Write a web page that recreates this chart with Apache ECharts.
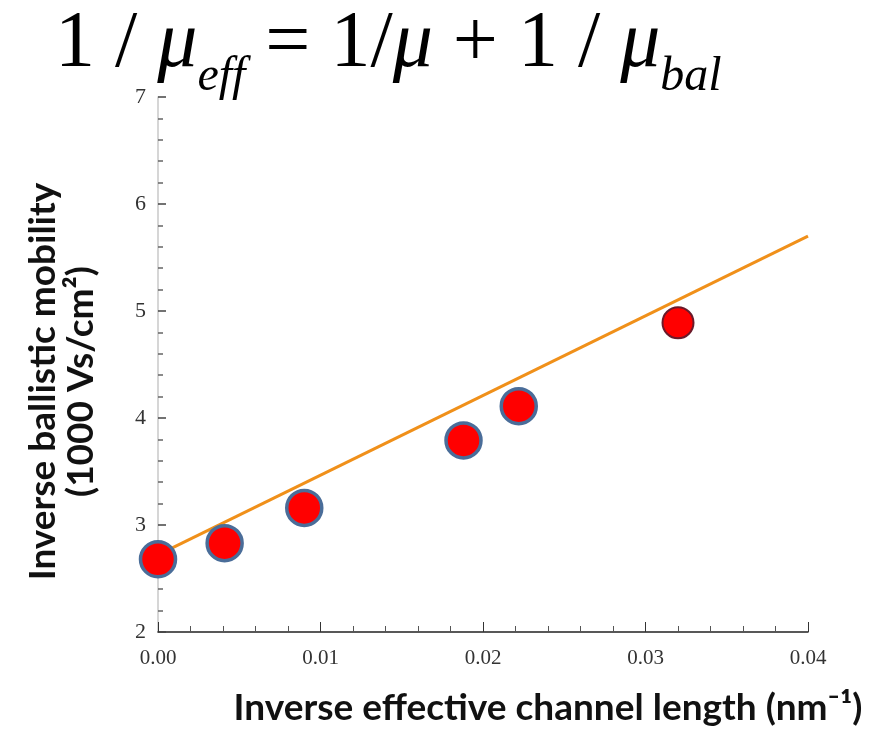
<!DOCTYPE html>
<html>
<head>
<meta charset="utf-8">
<script src="https://cdn.jsdelivr.net/npm/echarts@6/dist/echarts.min.js"></script>
<style>
  html, body { margin: 0; padding: 0; background: #fff; }
  #chart { width: 885px; height: 737px; }
</style>
</head>
<body>
<div id="chart"></div>
<script>
// measured points (inverse channel length vs inverse ballistic mobility)
const xValues = [0.0, 0.0041, 0.0090, 0.0188, 0.0222, 0.0320];
const yValues = [2.68, 2.83, 3.16, 3.79, 4.11, 4.89];
// linear fit line
const fitX = [0, 0.04];
const fitY = [2.72, 5.70];

const points = xValues.map((x, i) => [x, yValues[i]]);
const fitLine = fitX.map((x, i) => [x, fitY[i]]);

const serif = 'Liberation Serif';
const sans = 'Lato';

const chart = echarts.init(document.getElementById('chart'));
chart.setOption({
  backgroundColor: '#fff',
  animation: false,
  title: {
    left: 50,
    top: 0,
    text: '{n|1 / }{m|μ}{s|eff}{n| = 1/}{m|μ}{n| + 1 / }{m|μ}{s|bal}',
    textStyle: {
      fontWeight: 'normal',
      rich: {
        n: { fontFamily: serif, fontSize: 80, fontWeight: 'normal', color: '#000', lineHeight: 82, verticalAlign: 'top' },
        m: { fontFamily: serif, fontSize: 80, fontWeight: 'normal', fontStyle: 'italic', color: '#000', lineHeight: 82, verticalAlign: 'top' },
        s: { fontFamily: serif, fontSize: 48, fontWeight: 'normal', fontStyle: 'italic', color: '#000', lineHeight: 48, verticalAlign: 'top', padding: [48, 0, 0, 0] }
      }
    }
  },
  grid: { left: 158, right: 77, top: 97, bottom: 105, containLabel: false },
  xAxis: {
    type: 'value',
    min: 0,
    max: 0.04,
    interval: 0.01,
    name: 'Inverse effective channel length (nm⁻¹)',
    nameLocation: 'middle',
    nameGap: 58,
    nameTextStyle: { fontFamily: sans, fontWeight: 'bold', fontSize: 37, color: '#111', padding: [0, 0, 0, 130] },
    axisLine: { show: true, lineStyle: { color: '#222', width: 1.5 } },
    axisTick: { show: true, inside: true, length: 10, lineStyle: { color: '#333' } },
    minorTick: { show: true, splitNumber: 5, length: 6, lineStyle: { color: '#555' } },
    axisLabel: { fontFamily: serif, fontSize: 21, color: '#333', margin: 16, formatter: v => v.toFixed(2) },
    splitLine: { show: false }
  },
  yAxis: {
    type: 'value',
    min: 2,
    max: 7,
    interval: 1,
    name: 'Inverse ballistic mobility\n(1000 Vs/cm²)',
    nameLocation: 'middle',
    nameRotate: 90,
    nameGap: 58,
    nameTextStyle: { fontFamily: sans, fontWeight: 'bold', fontSize: 37, lineHeight: 38, color: '#111', padding: [0, 34, 0, 0] },
    axisLine: { show: true, lineStyle: { color: '#c8c8c8', width: 1.5 } },
    axisTick: { show: true, inside: true, length: 8, lineStyle: { color: '#444', width: 1.5 } },
    minorTick: { show: true, splitNumber: 5, length: 5, lineStyle: { color: '#666', width: 1.5 } },
    axisLabel: { fontFamily: serif, fontSize: 22, color: '#333', margin: 12 },
    splitLine: { show: false }
  },
  series: [
    {
      type: 'line',
      data: fitLine,
      showSymbol: false,
      lineStyle: { color: '#f0901a', width: 3 },
      z: 2
    },
    {
      type: 'scatter',
      data: points.map((p, i) => i === points.length - 1
        ? { value: p, symbolSize: 31, itemStyle: { borderColor: '#6a1a2a', borderWidth: 2 } }
        : p),
      symbolSize: 35,
      itemStyle: { color: '#ff0000', borderColor: '#4a6d99', borderWidth: 3.5, opacity: 1 },
      z: 3
    }
  ]
});
</script>
</body>
</html>
